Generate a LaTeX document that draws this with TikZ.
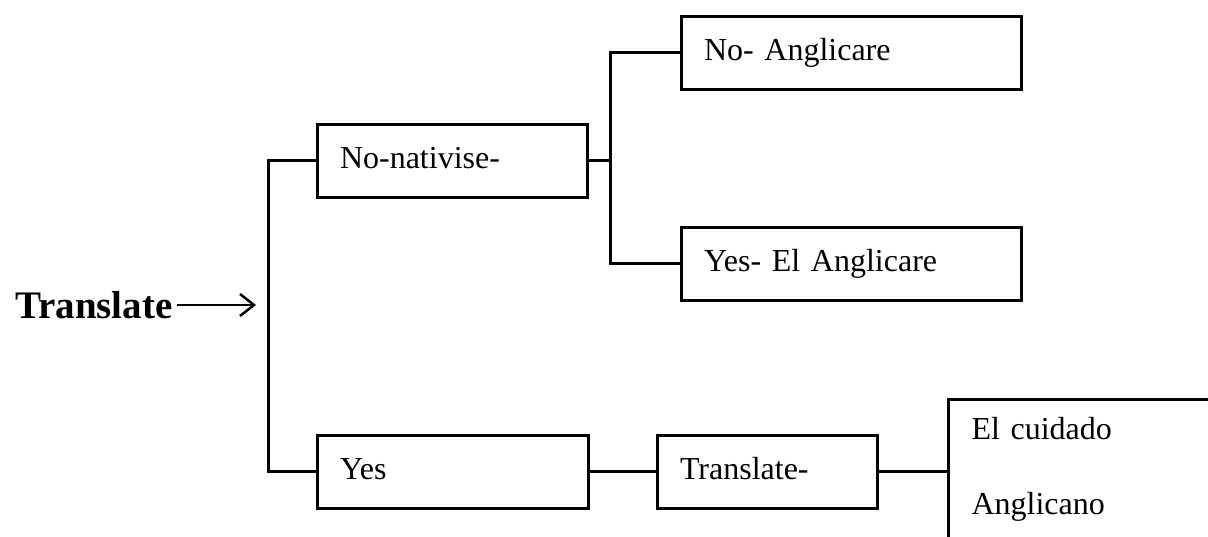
\documentclass[tikz,border=0pt]{standalone}
\usepackage{fontspec}
\setmainfont{Liberation Serif}
\usetikzlibrary{arrows.meta}

\tikzset{
  choice/.style={draw, line width=3pt, minimum height=73pt, inner xsep=23pt,
    text height=22pt, text depth=7pt, align=left, font=\fontsize{32}{38}\selectfont},
  branch/.style={line width=3pt},
}

\begin{document}
\begin{tikzpicture}[x=1pt, y=-1pt]
  \useasboundingbox (0,0) rectangle (1208,536);
  \clip (0,0) rectangle (1208,536);

  % start word and its arrow
  \node[anchor=west, inner ysep=2pt, inner xsep=4pt, font=\fontsize{39}{46}\selectfont\bfseries] (title) at (11,305) {Translate};
  \coordinate (tip) at (256,305);
  \draw[-{Straight Barb[length=14pt,width=22pt]}, line width=2.5pt] (title.east) -- (tip);

  % first level
  \node[choice, text width=224pt] (nat) at (452,160.5) {No-nativise-};
  \node[choice, text width=225pt] (yes) at (452.5,471.5) {Yes};

  % second level
  \node[choice, text width=294pt] (noang)  at (851,52.5)  {No- Anglicare};
  \node[choice, text width=294pt] (yesang) at (851,263.5) {Yes- El Anglicare};
  \node[choice, text width=174pt] (trans)  at (767,471.5) {Translate-};
  \node[draw, line width=3pt, anchor=north west, text width=300pt, inner xsep=23pt,
    inner ysep=18pt, align=left, font=\fontsize{32}{75}\selectfont] (cuid) at (947,398)
    {El cuidado\\Anglicano\\\mbox{}};

  % branch points
  \coordinate (lsplit) at (268,300);
  \coordinate (rsplit) at (610,160.5);

  \draw[branch] (nat.west) -| (lsplit) |- (yes.west);
  \draw[branch] (nat.east) -- (rsplit);
  \draw[branch] (noang.west) -| (rsplit) |- (yesang.west);
  \draw[branch] (yes.east) -- (trans.west);
  \draw[branch] (trans.east) -- (trans.east -| cuid.west);
\end{tikzpicture}
\end{document}
